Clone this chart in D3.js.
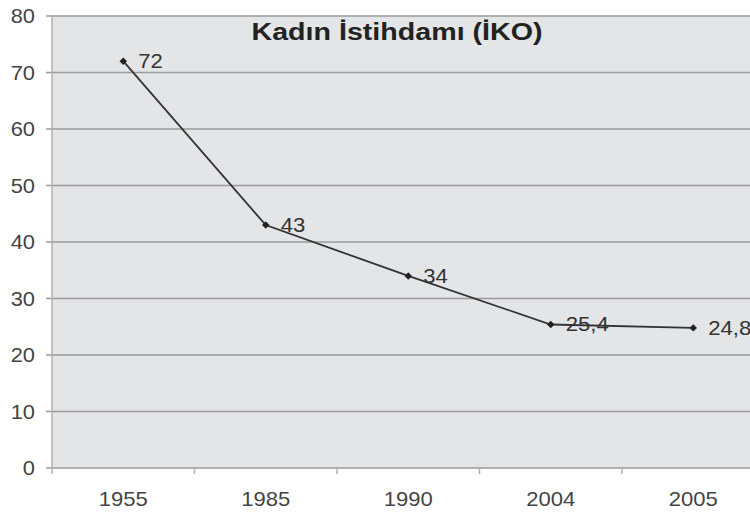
<!DOCTYPE html>
<html>
<head>
<meta charset="utf-8">
<script src="https://cdn.jsdelivr.net/npm/d3@7"></script>
<style>
  body { margin: 0; background: #fff; }
  svg { display: block; }
</style>
</head>
<body>
<div id="chart"></div>
<script>
// veriler
var yillar = ["1955", "1985", "1990", "2004", "2005"];
var degerler = [72, 43, 34, 25.4, 24.8];
var etiketler = ["72", "43", "34", "25,4", "24,8"];
var yTikler = [0, 10, 20, 30, 40, 50, 60, 70, 80];
var baslik = "Kadın İstihdamı (İKO)";

var W = 750, H = 515;
var m = { left: 52, top: 16, bottom: 47 };
var plotW = 5 * 142.5; // sag taraf kesik
var plotH = H - m.top - m.bottom;
var font = "Liberation Sans, Arial, sans-serif";

var svg = d3.select("#chart").append("svg")
  .attr("width", W).attr("height", H);

var x = d3.scaleBand().domain(yillar).range([m.left, m.left + plotW]);
var y = d3.scaleLinear().domain([0, 80]).range([m.top + plotH, m.top]);

// arka plan
svg.append("rect")
  .attr("x", m.left).attr("y", y(80))
  .attr("width", plotW).attr("height", y(0) - y(80))
  .attr("fill", "#e4e5e7");

// izgara
svg.append("g").selectAll("line")
  .data(yTikler)
  .enter().append("line")
  .attr("x1", m.left - 6).attr("x2", m.left + plotW)
  .attr("y1", function(d){ return y(d); })
  .attr("y2", function(d){ return y(d); })
  .attr("stroke", "#9a9a9a").attr("stroke-width", 1.5);

// sol eksen cizgisi
svg.append("line")
  .attr("x1", m.left).attr("x2", m.left)
  .attr("y1", y(80)).attr("y2", y(0))
  .attr("stroke", "#b0b0b0").attr("stroke-width", 1.5);

// y etiketleri
svg.append("g").selectAll("text")
  .data(yTikler)
  .enter().append("text")
  .attr("transform", function(d){ return "translate(35," + (y(d) + 7) + ") scale(1.12,1)"; })
  .attr("text-anchor", "end")
  .attr("font-family", font)
  .attr("font-size", "19.5px")
  .attr("fill", "#444")
  .text(function(d){ return d; });

// x eksen tikleri
var xg = svg.append("g")
  .attr("transform", "translate(0," + y(0) + ")");
xg.selectAll("line.tik")
  .data(yillar.slice(1))
  .enter().append("line")
  .attr("class", "tik")
  .attr("x1", function(d){ return x(d); })
  .attr("x2", function(d){ return x(d); })
  .attr("y1", 0).attr("y2", 6)
  .attr("stroke", "#b0b0b0").attr("stroke-width", 1.5);
xg.append("line")
  .attr("x1", m.left).attr("x2", m.left).attr("y1", 0).attr("y2", 6)
  .attr("stroke", "#b0b0b0").attr("stroke-width", 1.5);

svg.append("g").selectAll("text")
  .data(yillar)
  .enter().append("text")
  .attr("transform", function(d){ return "translate(" + (x(d) + x.bandwidth() / 2) + ",506) scale(1.05,1)"; })
  .attr("text-anchor", "middle")
  .attr("font-family", font)
  .attr("font-size", "21px")
  .attr("fill", "#444")
  .text(function(d){ return d; });

// cizgi
var veri = yillar.map(function(d, i){ return { yil: d, deger: degerler[i], etiket: etiketler[i] }; });
var cizgi = d3.line()
  .x(function(d){ return x(d.yil) + x.bandwidth() / 2; })
  .y(function(d){ return y(d.deger); });

svg.append("path")
  .datum(veri)
  .attr("d", cizgi)
  .attr("fill", "none")
  .attr("stroke", "#333")
  .attr("stroke-width", 1.8);

// isaretler
svg.append("g").selectAll("path")
  .data(veri)
  .enter().append("path")
  .attr("d", d3.symbol().type(d3.symbolSquare).size(28))
  .attr("transform", function(d){ return "translate(" + (x(d.yil) + x.bandwidth() / 2) + "," + y(d.deger) + ") rotate(45)"; })
  .attr("fill", "#222");

// deger etiketleri
svg.append("g").selectAll("text")
  .data(veri)
  .enter().append("text")
  .attr("transform", function(d){ return "translate(" + (x(d.yil) + x.bandwidth() / 2 + 15) + "," + (y(d.deger) + 7) + ") scale(1.08,1)"; })
  .attr("font-family", font)
  .attr("font-size", "20.5px")
  .attr("fill", "#333")
  .text(function(d){ return d.etiket; });

// baslik
svg.append("text")
  .attr("x", 397).attr("y", 40)
  .attr("text-anchor", "middle")
  .attr("font-family", font)
  .attr("font-weight", "bold")
  .attr("font-size", "23px")
  .attr("textLength", 291)
  .attr("lengthAdjust", "spacingAndGlyphs")
  .attr("fill", "#222")
  .text(baslik);
</script>
</body>
</html>
